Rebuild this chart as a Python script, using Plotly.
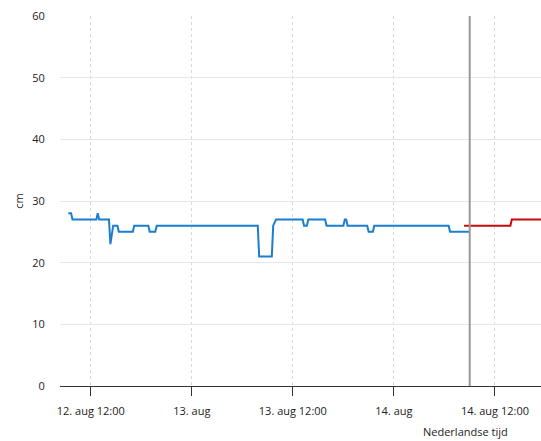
import plotly.graph_objects as go

# Measured water level (blue)
meas_times = [
    "2024-08-12 09:20", "2024-08-12 09:40", "2024-08-12 09:50",
    "2024-08-12 12:40", "2024-08-12 12:50", "2024-08-12 13:00",
    "2024-08-12 14:10", "2024-08-12 14:20", "2024-08-12 14:40",
    "2024-08-12 15:10", "2024-08-12 15:20", "2024-08-12 17:00",
    "2024-08-12 17:10", "2024-08-12 18:50", "2024-08-12 19:00",
    "2024-08-12 19:40", "2024-08-12 19:50", "2024-08-13 07:50",
    "2024-08-13 08:00", "2024-08-13 09:30", "2024-08-13 09:40",
    "2024-08-13 10:00", "2024-08-13 13:10", "2024-08-13 13:20",
    "2024-08-13 13:40", "2024-08-13 13:50", "2024-08-13 15:50",
    "2024-08-13 16:00", "2024-08-13 18:00", "2024-08-13 18:10",
    "2024-08-13 18:20", "2024-08-13 18:30", "2024-08-13 20:50",
    "2024-08-13 21:00", "2024-08-13 21:30", "2024-08-13 21:40",
    "2024-08-14 06:30", "2024-08-14 06:40", "2024-08-14 09:00",
]
meas_values = [
    28, 28, 27,
    27, 28, 27,
    27, 23, 26,
    26, 25, 25,
    26, 26, 25,
    25, 26, 26,
    21, 21, 26,
    27, 27, 26,
    26, 27, 27,
    26, 26, 27,
    27, 26, 26,
    25, 25, 26,
    26, 25, 25,
]

# Forecast (red)
fc_times = ["2024-08-14 08:20", "2024-08-14 13:50", "2024-08-14 14:00", "2024-08-14 17:30"]
fc_values = [26, 26, 27, 27]

now_time = "2024-08-14 09:00"

x_tickvals = ["2024-08-12 12:00", "2024-08-13 00:00", "2024-08-13 12:00",
              "2024-08-14 00:00", "2024-08-14 12:00"]
x_ticktext = ["12. aug 12:00", "13. aug", "13. aug 12:00", "14. aug", "14. aug 12:00"]
y_tickvals = [0, 10, 20, 30, 40, 50, 60]

FONT = "Open Sans"

fig = go.Figure()
fig.add_trace(go.Scatter(x=meas_times, y=meas_values, mode="lines",
                         line=dict(color="#1a7dd0", width=2), showlegend=False))
fig.add_trace(go.Scatter(x=fc_times, y=fc_values, mode="lines",
                         line=dict(color="#c80a0a", width=2), showlegend=False))

fig.add_shape(type="line", x0=now_time, x1=now_time, xref="x", y0=0, y1=1, yref="paper",
              line=dict(color="#999999", width=2), layer="above")

fig.add_annotation(text="Nederlandse tijd", xref="paper", yref="paper",
                   x=0.842, y=-0.122, xanchor="center", yanchor="middle",
                   showarrow=False, font=dict(family=FONT, size=11, color="#222222"))

fig.update_layout(
    width=541, height=441,
    margin=dict(l=60, r=0, t=16, b=55),
    paper_bgcolor="white", plot_bgcolor="white",
    font=dict(family=FONT, size=11, color="#222222"),
    hovermode=False,
    xaxis=dict(
        range=["2024-08-12 08:21", "2024-08-14 17:28"],
        tickvals=x_tickvals, ticktext=x_ticktext,
        showgrid=True, gridcolor="#d9d9d9", griddash="3px,3px", gridwidth=1,
        showline=True, linecolor="#333333", linewidth=1,
        ticks="outside", ticklen=9, tickcolor="#333333",
        ticklabelstandoff=6,
        zeroline=False, fixedrange=True,
    ),
    yaxis=dict(
        range=[0, 60], tickvals=y_tickvals,
        showgrid=True, gridcolor="#e6e6e6", gridwidth=1,
        zeroline=False, showline=False,
        ticks="outside", ticklen=12, tickcolor="rgba(0,0,0,0)",
        title=dict(text="cm", standoff=6, font=dict(size=11)),
        fixedrange=True,
    ),
)

page_fix = ("document.documentElement.style.margin='0';"
            "document.body.style.margin='0';"
            "document.documentElement.style.overflow='hidden';"
            "document.body.style.overflow='hidden';")

fig.write_html("out.html", post_script=page_fix,
               config={"displayModeBar": False, "staticPlot": True})
